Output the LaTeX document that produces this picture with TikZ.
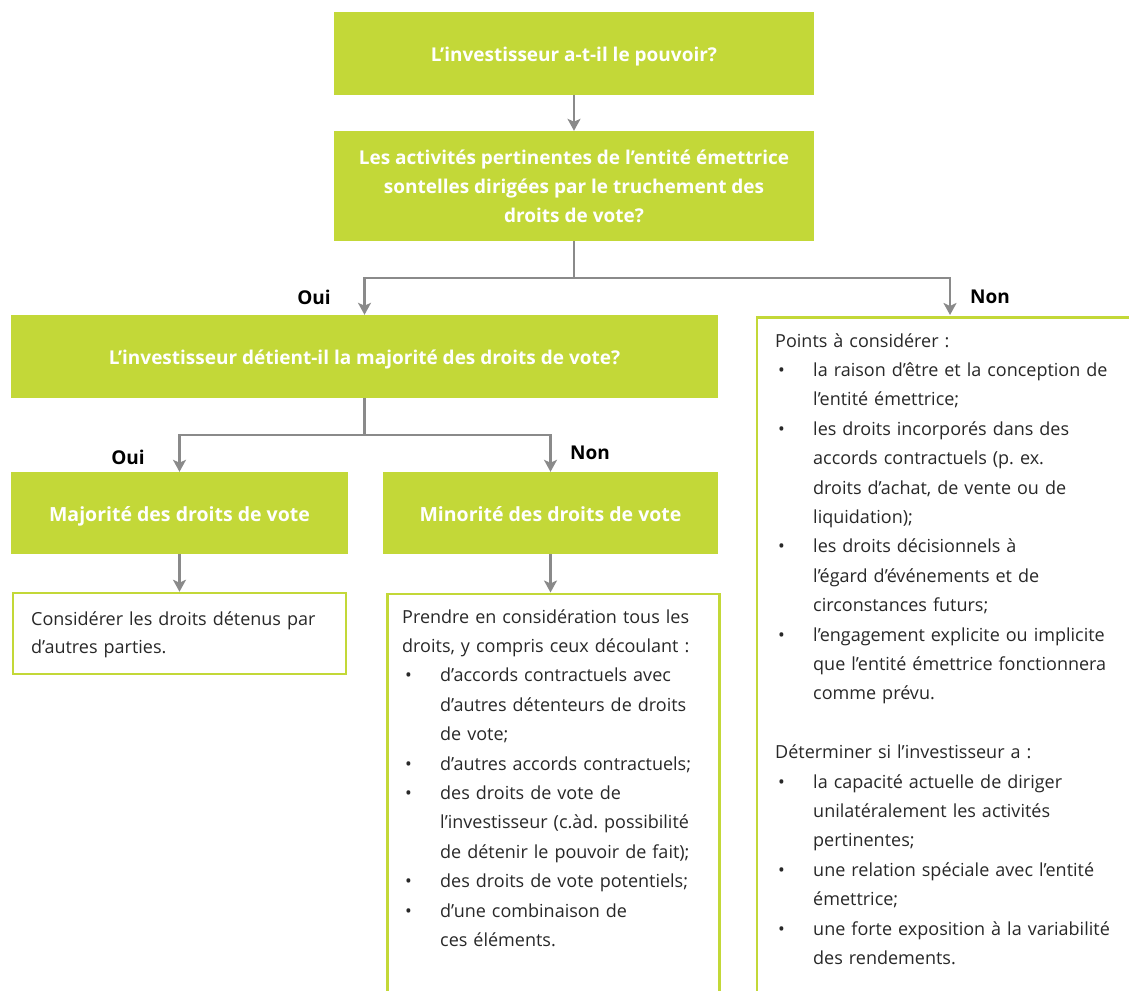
\documentclass[tikz,border=0pt]{standalone}
\usepackage{fontspec}
\setmainfont{Open Sans}
\usetikzlibrary{arrows.meta}
\definecolor{lime}{RGB}{195,216,56}
\definecolor{arrowgray}{RGB}{138,138,138}
\definecolor{txt}{RGB}{40,40,40}
\newcommand\bitem[1]{\hspace*{3pt}\makebox[35pt][l]{\textbullet}#1}
\newcommand\bcont[1]{\hspace*{38pt}#1}
\frenchspacing
\begin{document}
\begin{tikzpicture}[x=1pt,y=-1pt,
  greenbox/.style={fill=lime, draw=none, text=white, align=center, inner sep=0pt,
    font=\bfseries\fontsize{19}{29}\selectfont},
  oneline/.style={text height=19pt, text depth=3pt},
  bigbox/.style={greenbox, oneline, font=\bfseries\fontsize{19.5}{29}\selectfont},
  whitebox/.style={draw=lime, line width=2.5pt, fill=white, inner sep=0pt},
  arr/.style={draw=arrowgray, line width=2.6pt, -{Stealth[length=12pt,width=13pt,inset=3pt]}},
  lbl/.style={font=\bfseries\fontsize{19}{22}\selectfont, text=black, inner sep=0pt},
  body/.style={font=\fontsize{18}{29.4}\selectfont, text=txt, align=left, text width=420pt, inner sep=0pt, anchor=base west}
]
\useasboundingbox[fill=white] (0,0) rectangle (1129,990);
\clip (0,0) rectangle (1129,990);

% green decision boxes
\node[greenbox, oneline, minimum width=480pt, minimum height=83pt] (q1) at (574,53.5) {L’investisseur a-t-il le pouvoir?};
\node[greenbox, minimum width=480pt, minimum height=110pt] (q2) at (574,186) {Les activités pertinentes de l’entité émettrice\\sontelles dirigées par le truchement des\\droits de vote?};
\node[greenbox, oneline, minimum width=707pt, minimum height=83pt] (q3) at (364.5,356.5) {L’investisseur détient-il la majorité des droits de vote?};
\node[bigbox, minimum width=337pt, minimum height=82pt] (maj) at (179.5,513) {Majorité des droits de vote};
\node[bigbox, minimum width=335pt, minimum height=82pt] (min) at (550.5,513) {Minorité des droits de vote};

% white boxes
\node[whitebox, minimum width=333pt, minimum height=81pt] (cons) at (179.5,633.5) {};
\node[whitebox, minimum width=332pt, minimum height=450pt, anchor=north west] (mbox) at (386,592.5) {};
\node[whitebox, minimum width=420pt, minimum height=720pt, anchor=north west] (rbox) at (755.5,316) {};

% connectors
\coordinate (j1) at (574,278);
\coordinate (rtop) at (950,315);
\coordinate (j2) at (364.5,435);
\draw[arr] (q1) -- (q2);
\draw[arr] (q2.south) -- (j1) -| (q3.north);
\draw[arr] (j1) -| (rtop);
\draw[arr] (q3.south) -- (j2) -| (maj.north);
\draw[arr] (j2) -| (min.north);
\draw[arr] (maj.south) -- (cons.north);
\draw[arr] (min.south) -- (min.south |- mbox.north);

% labels
\node[lbl] (oui1) at (314,297) {Oui};
\node[lbl] (non1) at (990,297) {Non};
\node[lbl] (oui2) at (128,457) {Oui};
\node[lbl] (non2) at (590,453) {Non};

% texts
\node[body, font=\fontsize{18}{28}\selectfont] (tcons) at (31,625) {Considérer les droits détenus par\\d’autres parties.};

\node[body] (tmid) at (402,623) {Prendre en considération tous les\\
droits, y compris ceux découlant :\\
\bitem{d’accords contractuels avec}\\
\bcont{d’autres détenteurs de droits}\\
\bcont{de vote;}\\
\bitem{d’autres accords contractuels;}\\
\bitem{des droits de vote de}\\
\bcont{l’investisseur (c.àd. possibilité}\\
\bcont{de détenir le pouvoir de fait);}\\
\bitem{des droits de vote potentiels;}\\
\bitem{d’une combinaison de}\\
\bcont{ces éléments.}};

\node[body] (tright) at (775,347) {Points à considérer :\\
\bitem{la raison d’être et la conception de}\\
\bcont{l’entité émettrice;}\\
\bitem{les droits incorporés dans des}\\
\bcont{accords contractuels (p. ex.}\\
\bcont{droits d’achat, de vente ou de}\\
\bcont{liquidation);}\\
\bitem{les droits décisionnels à}\\
\bcont{l’égard d’événements et de}\\
\bcont{circonstances futurs;}\\
\bitem{l’engagement explicite ou implicite}\\
\bcont{que l’entité émettrice fonctionnera}\\
\bcont{comme prévu.}\\[29.4pt]
Déterminer si l’investisseur a :\\
\bitem{la capacité actuelle de diriger}\\
\bcont{unilatéralement les activités}\\
\bcont{pertinentes;}\\
\bitem{une relation spéciale avec l’entité}\\
\bcont{émettrice;}\\
\bitem{une forte exposition à la variabilité}\\
\bcont{des rendements.}};
\end{tikzpicture}
\end{document}
